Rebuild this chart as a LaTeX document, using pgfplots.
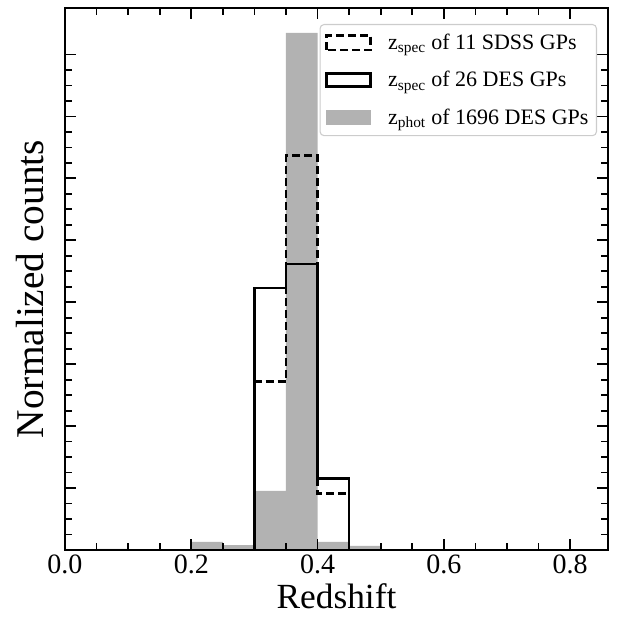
\documentclass[border=0pt]{standalone}
\usepackage{fontspec}
\setmainfont{Liberation Serif}
\usepackage{pgfplots}
\pgfplotsset{compat=1.18}

\definecolor{histgray}{RGB}{178,178,178}

\begin{document}
\begin{tikzpicture}
\begin{axis}[
  scale only axis,
  width=407.25pt, height=406.5pt,
  xmin=0, xmax=0.86,
  ymin=0, ymax=17.5,
  xtick={0,0.2,0.4,0.6,0.8},
  xticklabels={0.0,0.2,0.4,0.6,0.8},
  minor x tick num=3,
  ytick={0,2,...,16},
  yticklabels={},
  minor y tick num=3,
  tick align=inside,
  xtick pos=both, ytick pos=both,
  major tick length=8.25pt, minor tick length=5pt,
  every tick/.style={black, line width=1.3pt},
  axis line style={line width=1.8pt},
  axis on top,
  tick label style={font=\fontsize{21}{25}\selectfont},
  /pgf/number format/assume math mode=true,
  xlabel={Redshift},
  ylabel={Normalized counts},
  xlabel style={font=\fontsize{26.5}{32}\selectfont,
    at={(axis description cs:0.5,0)}, anchor=base, yshift=-43.5pt},
  ylabel style={font=\fontsize{29.5}{35}\selectfont,
    at={(axis description cs:-0.0405,0.4815)}, anchor=base},
  legend cell align=left,
  legend style={at={(axis description cs:1,1)}, anchor=north east,
    xshift=-8.25pt, yshift=-12pt,
    draw=black!20, rounded corners=3pt, line width=0.8pt,
    font=\fontsize{16.5}{19}\selectfont,
    row sep=11pt, inner xsep=4pt, inner ysep=5pt},
]
% z_phot of 1696 DES GPs (density)
\addplot[const plot, fill=histgray, draw=none, forget plot] coordinates {
  (0.05,0.04) (0.10,0) (0.15,0) (0.20,0.26) (0.25,0.16)
  (0.30,1.91) (0.35,16.7) (0.40,0.26) (0.45,0.13) (0.50,0)
} \closedcycle;
% z_spec of 11 SDSS GPs
\addplot[const plot, black, line width=2pt, dash pattern=on 6pt off 3pt, forget plot] coordinates {
  (0.30,0) (0.30,5.45) (0.35,12.73) (0.40,1.82) (0.45,0)
};
% z_spec of 26 DES GPs
\addplot[const plot, black, line width=2pt, forget plot] coordinates {
  (0.30,0) (0.30,8.46) (0.35,9.23) (0.40,2.31) (0.45,0)
};
\addlegendimage{legend image code/.code={\draw[sharp corners, black, line width=2pt, dash pattern=on 6pt off 3pt] (0pt,-5.5pt) rectangle (33pt,5.5pt); \path[draw=none, fill=none] (0pt,0pt) -- (44pt,0pt);}}
\addlegendentry{z\textsubscript{spec} of 11 SDSS GPs}
\addlegendimage{legend image code/.code={\draw[sharp corners, black, line width=2pt] (0pt,-5pt) rectangle (33pt,5pt); \path[draw=none, fill=none] (0pt,0pt) -- (44pt,0pt);}}
\addlegendentry{z\textsubscript{spec} of 26 DES GPs}
\addlegendimage{legend image code/.code={\fill[sharp corners, histgray] (0pt,-5.5pt) rectangle (33pt,5.5pt); \path[draw=none, fill=none] (0pt,0pt) -- (44pt,0pt);}}
\addlegendentry{z\textsubscript{phot} of 1696 DES GPs}
\end{axis}
\pgfresetboundingbox
\path ([shift={(-48.75pt,-53.25pt)}]current axis.south west) rectangle ([shift={(10.5pt,6pt)}]current axis.north east);
\end{tikzpicture}
\end{document}
